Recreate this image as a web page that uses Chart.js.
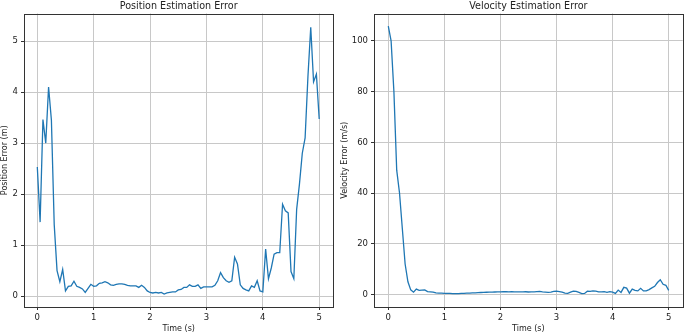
<!DOCTYPE html>
<html>
<head>
<meta charset="utf-8">
<script src="https://cdn.jsdelivr.net/npm/chart.js@4.4.1/dist/chart.umd.min.js"></script>
<style>
html, body { margin: 0; padding: 0; background: #fff; }
#pos { position: absolute; left: 0; top: 0; width: 340px; height: 334px; }
#vel { position: absolute; left: 340px; top: 0; width: 345px; height: 334px; }
</style>
</head>
<body>
<div id="pos"><canvas id="posChart"></canvas></div>
<div id="vel"><canvas id="velChart"></canvas></div>
<script>
// sample times (s)
const times = [
    0, 0.05, 0.1, 0.15, 0.2, 0.25, 0.3, 0.35, 0.4, 0.45,
    0.5, 0.55, 0.6, 0.65, 0.7, 0.75, 0.8, 0.85, 0.9, 0.95,
    1, 1.05, 1.1, 1.15, 1.2, 1.25, 1.3, 1.35, 1.4, 1.45,
    1.5, 1.55, 1.6, 1.65, 1.7, 1.75, 1.8, 1.85, 1.9, 1.95,
    2, 2.05, 2.1, 2.15, 2.2, 2.25, 2.3, 2.35, 2.4, 2.45,
    2.5, 2.55, 2.6, 2.65, 2.7, 2.75, 2.8, 2.85, 2.9, 2.95,
    3, 3.05, 3.1, 3.15, 3.2, 3.25, 3.3, 3.35, 3.4, 3.45,
    3.5, 3.55, 3.6, 3.65, 3.7, 3.75, 3.8, 3.85, 3.9, 3.95,
    4, 4.05, 4.1, 4.15, 4.2, 4.25, 4.3, 4.35, 4.4, 4.45,
    4.5, 4.55, 4.6, 4.65, 4.7, 4.75, 4.8, 4.85, 4.9, 4.95,
    5
];

const posError = [
    2.53, 1.45, 3.46, 3.0, 4.1, 3.45, 1.4, 0.5, 0.28, 0.52,
    0.1, 0.19, 0.2, 0.29, 0.19, 0.17, 0.14, 0.07, 0.15, 0.23,
    0.19, 0.2, 0.25, 0.26, 0.28, 0.26, 0.22, 0.21, 0.23, 0.24,
    0.24, 0.23, 0.21, 0.2, 0.2, 0.2, 0.17, 0.21, 0.17, 0.1,
    0.07, 0.06, 0.07, 0.06, 0.07, 0.04, 0.06, 0.07, 0.08, 0.08,
    0.12, 0.13, 0.17, 0.17, 0.22, 0.19, 0.19, 0.22, 0.15, 0.18,
    0.18, 0.18, 0.18, 0.21, 0.3, 0.46, 0.36, 0.3, 0.27, 0.3,
    0.76, 0.63, 0.22, 0.15, 0.12, 0.1, 0.2, 0.17, 0.3, 0.1,
    0.08, 0.92, 0.34, 0.55, 0.82, 0.85, 0.85, 1.8, 1.67, 1.63,
    0.48, 0.34, 1.7, 2.2, 2.8, 3.1, 4.3, 5.27, 4.2, 4.35,
    3.47
];

const velError = [
    105.8, 100, 80, 49, 40, 26, 12, 5, 1.8, 0.9,
    2.1, 1.6, 1.7, 1.8, 1.1, 1.0, 0.9, 0.6, 0.5, 0.5,
    0.45, 0.4, 0.4, 0.35, 0.35, 0.35, 0.4, 0.45, 0.5, 0.55,
    0.6, 0.65, 0.7, 0.75, 0.8, 0.85, 0.9, 0.9, 0.95, 1.0,
    1.0, 1.05, 1.05, 1.0, 1.05, 1.0, 1.0, 1.0, 1.0, 1.05,
    0.95, 1.0, 1.0, 1.1, 1.2, 1.0, 0.9, 0.8, 0.9, 1.2,
    1.3, 1.1, 0.9, 0.5, 0.4, 0.9, 1.3, 1.2, 0.8, 0.3,
    0.4, 1.3, 1.2, 1.4, 1.3, 1.0, 1.0, 1.1, 0.8, 1.1,
    0.9, 0.4, 1.7, 0.8, 2.8, 2.5, 0.5, 2.1, 1.6, 1.4,
    2.4, 1.4, 1.4, 1.9, 2.6, 3.2, 4.7, 5.8, 4.0, 3.6,
    1.6
];

const timeTicks = [0, 1, 2, 3, 4, 5];
const posTicks = [0, 1, 2, 3, 4, 5];
const velTicks = [0, 20, 40, 60, 80, 100];

Chart.defaults.font.family = "'DejaVu Sans', sans-serif";
Chart.defaults.font.size = 8;
Chart.defaults.color = '#222';

// matplotlib-like box around the plot area
const frame = {
    id: 'frame',
    afterDraw(chart) {
        const a = chart.chartArea;
        const c = chart.ctx;
        c.save();
        c.strokeStyle = '#333';
        c.lineWidth = 1;
        c.strokeRect(Math.round(a.left) + 0.5, Math.round(a.top) + 0.5,
            Math.round(a.right - a.left), Math.round(a.bottom - a.top));
        c.restore();
    }
};

function axis(ticks, min, max, label, fit) {
    return {
        type: 'linear',
        min: min,
        max: max,
        afterBuildTicks: s => { s.ticks = ticks.map(v => ({ value: v })); },
        afterFit: fit,
        grid: { color: '#c8c8c8', lineWidth: 1, tickColor: '#333', tickLength: 3 },
        border: { display: false },
        ticks: { padding: 3, maxRotation: 0, autoSkip: false, color: '#222', font: { size: 8.5 } },
        title: { display: true, text: label, color: '#222', padding: { top: 0, bottom: 0.5 } }
    };
}

function makeChart(id, o) {
    return new Chart(document.getElementById(id), {
        type: 'line',
        data: {
            datasets: [{
                data: times.map((t, i) => ({ x: t, y: o.values[i] })),
                borderColor: '#1f77b4',
                borderWidth: 1.3,
                pointRadius: 0,
                tension: 0,
                fill: false
            }]
        },
        options: {
            responsive: true,
            maintainAspectRatio: false,
            animation: false,
            layout: { padding: { left: 0, top: 0, right: o.rightPad, bottom: 0 } },
            plugins: {
                legend: { display: false },
                tooltip: { enabled: false },
                title: {
                    display: true,
                    text: o.title,
                    fullSize: false,
                    color: '#222',
                    font: { size: 9.6, weight: 'normal' },
                    padding: { top: 1, bottom: 1 }
                }
            },
            scales: {
                x: axis(timeTicks, o.xMin, 5.25, 'Time (s)', s => { s.height = 27; }),
                y: axis(o.yTicks, o.yMin, o.yMax, o.yLabel, s => { s.width = o.yWidth; })
            }
        },
        plugins: [frame]
    });
}

makeChart('posChart', {
    title: 'Position Estimation Error',
    yLabel: 'Position Error (m)',
    values: posError,
    yTicks: posTicks,
    xMin: -0.236, yMin: -0.215, yMax: 5.54,
    yWidth: 24, rightPad: 6.7
});

makeChart('velChart', {
    title: 'Velocity Estimation Error',
    yLabel: 'Velocity Error (m/s)',
    values: velError,
    yTicks: velTicks,
    xMin: -0.255, yMin: -4.96, yMax: 110.8,
    yWidth: 34, rightPad: 2.3
});
</script>
</body>
</html>
